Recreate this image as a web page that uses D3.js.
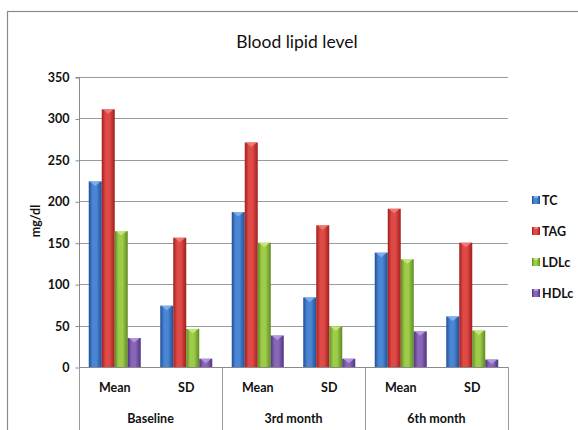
<!DOCTYPE html>
<html><head><meta charset="utf-8">
<script src="https://cdn.jsdelivr.net/npm/d3@7"></script>
<style>
html,body{margin:0;padding:0;background:#fff;}
svg{display:block;font-family:Lato,"Open Sans",sans-serif;}
</style></head>
<body>
<svg id="chart" width="578" height="430"></svg>
<script>
const title = "Blood lipid level";
const yLabel = "mg/dl";
const categories = ["Mean","SD","Mean","SD","Mean","SD"];
const groups = ["Baseline","3rd month","6th month"];
const seriesNames = ["TC","TAG","LDLc","HDLc"];
const TC   = [224, 74, 187, 84, 138, 61];
const TAG  = [311, 156, 271, 171, 191, 150];
const LDLc = [164, 46, 150, 49, 130, 44];
const HDLc = [35, 10, 38, 10, 43, 9];
const yTicks = [0,50,100,150,200,250,300,350];
const seriesValues = [TC, TAG, LDLc, HDLc];
const colors = [
  {dark:"#1f4f96", mid:"#4a86d4", top:"#7fb4ee"},
  {dark:"#9e1f1f", mid:"#e04a46", top:"#f07d78"},
  {dark:"#5f8a1f", mid:"#9dcc4a", top:"#c8ea7c"},
  {dark:"#4f3380", mid:"#8a66b8", top:"#b79ae0"}
];

const svg = d3.select("#chart");
const W = 578, H = 430;
const m = {left:79, right:508, top:77, bottom:367};

// frame
svg.append("rect").attr("x",7.5).attr("y",11.5).attr("width",W).attr("height",H)
  .attr("fill","none").attr("stroke","#8a8a8a").attr("stroke-width",1.2);

const defs = svg.append("defs");
colors.forEach((c,i)=>{
  const g = defs.append("linearGradient").attr("id","g"+i).attr("x1","0").attr("x2","1").attr("y1","0").attr("y2","0");
  g.append("stop").attr("offset","0").attr("stop-color",c.dark);
  g.append("stop").attr("offset","0.3").attr("stop-color",c.mid);
  g.append("stop").attr("offset","0.6").attr("stop-color",c.mid);
  g.append("stop").attr("offset","1").attr("stop-color",c.dark);
});

const x = d3.scaleBand().domain(d3.range(categories.length)).range([m.left, m.right]).padding(0);
const xs = d3.scaleBand().domain(d3.range(seriesNames.length)).range([0, x.bandwidth()]).paddingInner(0).paddingOuter(0.75);
const y = d3.scaleLinear().domain([0,350]).range([m.bottom, m.top]);

// gridlines
svg.append("g").selectAll("line").data(yTicks.filter(t=>t>0)).join("line")
  .attr("x1",m.left).attr("x2",m.right)
  .attr("y1",d=>Math.round(y(d))+0.5).attr("y2",d=>Math.round(y(d))+0.5)
  .attr("stroke","#9a9a9a").attr("stroke-width",1);

// y axis
const yAxis = d3.axisLeft(y).tickValues(yTicks).tickSize(4).tickPadding(6);
const ya = svg.append("g").attr("transform",`translate(${m.left+0.5},0.5)`).call(yAxis);
ya.select(".domain").attr("stroke","#8a8a8a").attr("d",`M-4,${y(350)}H0V${y(0)}`);
ya.selectAll(".tick line").attr("stroke","#8a8a8a");
ya.selectAll(".tick text").attr("font-size",12.5).attr("font-weight","bold").attr("fill","#111")
  .attr("font-family","Lato, sans-serif");

// bars
const gBars = svg.append("g");
categories.forEach((c,ci)=>{
  seriesValues.forEach((vals,si)=>{
    const bx = x(ci) + xs(si), bw = xs.bandwidth();
    const by = y(vals[ci]), bh = y(0) - y(vals[ci]);
    gBars.append("rect").attr("x",bx).attr("y",by).attr("width",bw).attr("height",bh)
      .attr("fill",`url(#g${si})`);
    const th = Math.min(4.5, bh);
    gBars.append("path")
      .attr("d",`M${bx+1},${by}L${bx+bw-1},${by}L${bx+bw/2},${by+th}Z`)
      .attr("fill",colors[si].top).attr("opacity",0.9);
  });
});

// x axis line
svg.append("line").attr("x1",m.left).attr("x2",m.right+0.5)
  .attr("y1",m.bottom+0.5).attr("y2",m.bottom+0.5).attr("stroke","#8a8a8a");

// group dividers
const divs = d3.range(groups.length+1).map(i=> i<groups.length ? x(i*2) : m.right);
svg.append("g").selectAll("line").data(divs).join("line")
  .attr("x1",d=>Math.round(d)+0.5).attr("x2",d=>Math.round(d)+0.5)
  .attr("y1",m.bottom).attr("y2",H).attr("stroke","#9a9a9a");

// category labels
svg.append("g").selectAll("text").data(categories).join("text")
  .attr("x",(d,i)=>x(i)+x.bandwidth()/2).attr("y",392)
  .attr("text-anchor","middle").attr("font-size",12.5).attr("font-weight","bold").attr("fill","#111")
  .text(d=>d);

svg.append("g").selectAll("text").data(groups).join("text")
  .attr("x",(d,i)=>x(i*2)+x.bandwidth()).attr("y",423)
  .attr("text-anchor","middle").attr("font-size",12.5).attr("font-weight","bold").attr("fill","#111")
  .text(d=>d);

// y label
svg.append("text").attr("transform","translate(40,221) rotate(-90)")
  .attr("text-anchor","middle").attr("font-size",12.5).attr("font-weight","bold").attr("fill","#111")
  .text(yLabel);

// title
svg.append("text").attr("x",297).attr("y",48).attr("text-anchor","middle")
  .attr("font-size",17.5).attr("fill","#111").text(title);

// legend
const lg = svg.append("g");
seriesNames.forEach((s,i)=>{
  const cy = 200 + i*31;
  lg.append("rect").attr("x",532).attr("y",cy-4).attr("width",8).attr("height",8)
    .attr("fill",`url(#g${i})`);
  lg.append("rect").attr("x",534).attr("y",cy-4).attr("width",4).attr("height",2)
    .attr("fill",colors[i].top);
  lg.append("text").attr("x",542).attr("y",cy+4.5).attr("font-size",12.5).attr("font-weight","bold")
    .attr("fill","#111").text(s);
});
</script>
</body></html>
